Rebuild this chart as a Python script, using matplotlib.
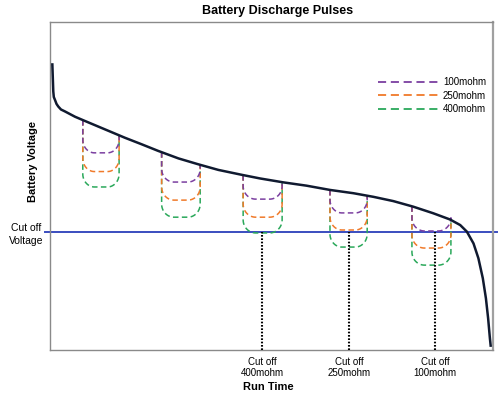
import numpy as np
import matplotlib
matplotlib.use("Agg")
import matplotlib.pyplot as plt
from matplotlib.lines import Line2D

plt.rcParams['font.family'] = ['Liberation Sans', 'DejaVu Sans']

# ---- data (run time 0..100, voltage in arbitrary units 0..100) ----
curve_t = [0.52, 0.74, 0.86, 1.13, 1.47, 1.87, 2.48, 3.39, 5.64, 7.90, 10.9,
           13.9, 16.9, 20.7, 24.4, 29.0, 33.5, 38.0, 43.3, 47.4, 52.7, 57.9,
           63.2, 68.5, 73.0, 77.5, 82.0, 86.5, 90.3, 92.6, 94.1, 95.6, 96.7,
           97.7, 98.4, 98.9, 99.3, 99.5]
curve_v = [87.4, 78.8, 77.1, 76.2, 75.0, 74.2, 73.3, 72.7, 71.1, 69.8, 68.1,
           66.4, 64.7, 62.7, 60.7, 58.4, 56.6, 54.9, 53.4, 52.3, 51.1, 50.1,
           48.8, 47.8, 46.7, 45.4, 43.7, 41.7, 39.8, 38.1, 36.1, 32.5, 28.0,
           21.9, 15.8, 9.7, 3.6, 1.0]

pulse_start = [7.4, 25.2, 43.6, 63.2, 81.7]
pulse_end = [15.6, 33.9, 52.4, 71.6, 90.5]
series_names = ['100mohm', '250mohm', '400mohm']
series_colors = ['#7B3FA0', '#F07A2A', '#2AA85A']
pulse_bottom = {
    '100mohm': [60.1, 51.2, 46.0, 41.8, 36.3],
    '250mohm': [54.4, 45.7, 40.5, 36.6, 31.1],
    '400mohm': [49.7, 40.5, 35.7, 31.4, 25.9],
}
cutoff_voltage = 36.0
cutoff_times = [47.9, 67.5, 86.9]
cutoff_labels = ['Cut off\n400mohm', 'Cut off\n250mohm', 'Cut off\n100mohm']

# ---- figure ----
fig = plt.figure(figsize=(5.0, 3.97), dpi=100)
ax = fig.add_axes([0.1, 0.118, 0.886, 0.827])
ax.set_xlim(0, 100)
ax.set_ylim(0, 100)
ax.set_xticks([])
ax.set_yticks([])
for s in ax.spines.values():
    s.set_color('#8a8a8a')
    s.set_linewidth(1.0)
ax.spines['right'].set_linewidth(1.6)
ax.spines['right'].set_color('#a0a0a0')


def pulse_path(ts, te, vb, rx_frac=0.32, ry=4.0):
    vs = np.interp(ts, curve_t, curve_v)
    ve = np.interp(te, curve_t, curve_v)
    rx = rx_frac * (te - ts)
    th = np.linspace(0, np.pi / 2, 24)
    lx = ts + rx - rx * np.cos(th)
    ly = vb + ry - ry * np.sin(th)
    rxx = te - rx + rx * np.sin(th)
    ryy = vb + ry - ry * np.cos(th)
    xs = np.concatenate([[ts], lx, rxx, [te]])
    ys = np.concatenate([[vs], ly, ryy, [ve]])
    return xs, ys


# cutoff line
ax.plot([-1.2, 101.0], [cutoff_voltage, cutoff_voltage], color='#3A4DBF',
        lw=1.4, zorder=2, clip_on=False)

# pulses
for name, col in reversed(list(zip(series_names, series_colors))):
    for ts, te, vb in zip(pulse_start, pulse_end, pulse_bottom[name]):
        xs, ys = pulse_path(ts, te, vb)
        ax.plot(xs, ys, color=col, lw=1.1, dashes=(3.6, 2.2), zorder=3)

# main discharge curve
ax.plot(curve_t, curve_v, color='#101a30', lw=1.8, zorder=4,
        solid_capstyle='butt', solid_joinstyle='round')

# dotted cutoff markers
for tc, lab in zip(cutoff_times, cutoff_labels):
    ax.plot([tc, tc], [0, cutoff_voltage], color='black', lw=1.5,
            linestyle=(0, (0.8, 0.8)), zorder=3)
    ax.text(tc, -2.0, lab, ha='center', va='top', fontsize=7,
            linespacing=1.15, transform=ax.transData, clip_on=False)

# legend
handles = [Line2D([0], [0], color=c, lw=1.3, dashes=(4.5, 2.6)) for c in series_colors]
ax.legend(handles, series_names, loc='upper left', bbox_to_anchor=(0.731, 0.843),
          frameon=False, fontsize=7, handlelength=6.3, handletextpad=0.4,
          labelspacing=0.35, borderaxespad=0)

# texts
fig.text(0.556, 0.972, 'Battery Discharge Pulses', ha='center', va='center',
         fontsize=9, fontweight='bold')
fig.text(0.536, 0.025, 'Run Time', ha='center', va='center',
         fontsize=8, fontweight='bold')
fig.text(0.066, 0.594, 'Battery Voltage', ha='center', va='center',
         fontsize=8, fontweight='bold', rotation=90)
fig.text(0.053, 0.41, 'Cut off\nVoltage', ha='center', va='center',
         fontsize=7.5, linespacing=1.4)

fig.savefig('out.png', dpi=100)
